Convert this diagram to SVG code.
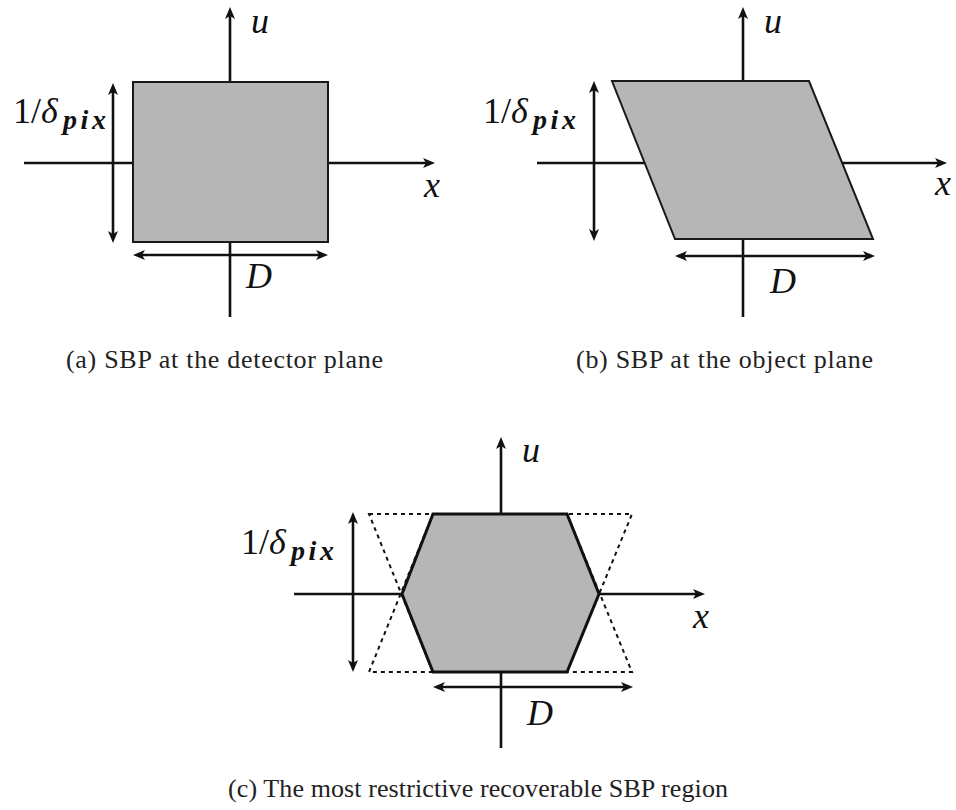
<svg xmlns="http://www.w3.org/2000/svg" width="956" height="810" viewBox="0 0 956 810">
<defs>
<marker id="arr" markerUnits="userSpaceOnUse" markerWidth="14" markerHeight="12" refX="3" refY="5" orient="auto-start-reverse">
<path d="M0,0 L12,5 L0,10 L3,5 z" fill="#111"/>
</marker>
</defs>
<rect width="956" height="810" fill="#fff"/>

<g id="panel-a">
<g id="a-connectors" stroke="#111" stroke-width="2.6" fill="none">
<line x1="24" y1="163" x2="426" y2="163" marker-end="url(#arr)"/>
<line x1="230" y1="317" x2="230" y2="16" marker-end="url(#arr)"/>
</g>
<g id="a-region"><rect fill="#b6b6b6" stroke="#1a1a1a" stroke-width="2" x="133" y="82" width="195" height="160"/></g>
<g id="a-dims" stroke="#111" stroke-width="2.6" fill="none">
<line x1="113" y1="92" x2="113" y2="234" marker-start="url(#arr)" marker-end="url(#arr)"/>
<line x1="142" y1="255" x2="319" y2="255" marker-start="url(#arr)" marker-end="url(#arr)"/>
</g>
<text font-family="Liberation Serif, serif" font-style="italic" font-size="36" fill="#111" x="251" y="33">u</text>
<text font-family="Liberation Serif, serif" font-style="italic" font-size="36" fill="#111" x="424" y="197">x</text>
<text font-family="Liberation Serif, serif" font-style="italic" font-size="36" fill="#111" x="246" y="288">D</text>
<text font-family="Liberation Serif, serif" font-size="36" fill="#111" x="13" y="123">1/<tspan font-style="italic">δ</tspan></text>
<text font-family="Liberation Serif, serif" font-style="italic" font-weight="bold" font-size="28" fill="#111" x="63" y="129" textLength="43">pix</text>
<text font-family="Liberation Serif, serif" font-size="26" fill="#222" x="66" y="368" textLength="317">(a) SBP at the detector plane</text>
</g>

<g id="panel-b">
<g id="b-connectors" stroke="#111" stroke-width="2.6" fill="none">
<line x1="537" y1="163" x2="938" y2="163" marker-end="url(#arr)"/>
<line x1="743" y1="317" x2="743" y2="16" marker-end="url(#arr)"/>
</g>
<g id="b-region"><polygon fill="#b6b6b6" stroke="#1a1a1a" stroke-width="2" points="612,81 809,81 873,239 675,239"/></g>
<g id="b-dims" stroke="#111" stroke-width="2.6" fill="none">
<line x1="594" y1="90" x2="594" y2="232" marker-start="url(#arr)" marker-end="url(#arr)"/>
<line x1="684" y1="256" x2="866" y2="256" marker-start="url(#arr)" marker-end="url(#arr)"/>
</g>
<text font-family="Liberation Serif, serif" font-style="italic" font-size="36" fill="#111" x="764" y="33">u</text>
<text font-family="Liberation Serif, serif" font-style="italic" font-size="36" fill="#111" x="935" y="195">x</text>
<text font-family="Liberation Serif, serif" font-style="italic" font-size="36" fill="#111" x="770" y="293">D</text>
<text font-family="Liberation Serif, serif" font-size="36" fill="#111" x="483" y="123">1/<tspan font-style="italic">δ</tspan></text>
<text font-family="Liberation Serif, serif" font-style="italic" font-weight="bold" font-size="28" fill="#111" x="533" y="129" textLength="43">pix</text>
<text font-family="Liberation Serif, serif" font-size="26" fill="#222" x="576" y="368" textLength="297">(b) SBP at the object plane</text>
</g>

<g id="panel-c">
<g id="c-connectors" stroke="#111" stroke-width="2.6" fill="none">
<line x1="294" y1="594" x2="696" y2="594" marker-end="url(#arr)"/>
<line x1="501" y1="748" x2="501" y2="446" marker-end="url(#arr)"/>
</g>
<g id="c-bounds" fill="none" stroke="#111" stroke-width="2" stroke-dasharray="4 4">
<polygon points="369,514 567,514 632,672 433,672"/>
<polygon points="433,514 632,514 567,672 369,672"/>
</g>
<g id="c-region"><polygon fill="#b6b6b6" stroke="#111" stroke-width="3" points="433,514 567,514 599,594 567,672 433,672 402,594"/></g>
<g id="c-dims" stroke="#111" stroke-width="2.6" fill="none">
<line x1="353" y1="521" x2="353" y2="663" marker-start="url(#arr)" marker-end="url(#arr)"/>
<line x1="442" y1="687" x2="624" y2="687" marker-start="url(#arr)" marker-end="url(#arr)"/>
</g>
<text font-family="Liberation Serif, serif" font-style="italic" font-size="36" fill="#111" x="522" y="462">u</text>
<text font-family="Liberation Serif, serif" font-style="italic" font-size="36" fill="#111" x="693" y="628">x</text>
<text font-family="Liberation Serif, serif" font-style="italic" font-size="36" fill="#111" x="527" y="725">D</text>
<text font-family="Liberation Serif, serif" font-size="36" fill="#111" x="241" y="554">1/<tspan font-style="italic">δ</tspan></text>
<text font-family="Liberation Serif, serif" font-style="italic" font-weight="bold" font-size="28" fill="#111" x="291" y="560" textLength="43">pix</text>
<text font-family="Liberation Serif, serif" font-size="26" fill="#222" x="228" y="797" textLength="500">(c) The most restrictive recoverable SBP region</text>
</g>
</svg>
